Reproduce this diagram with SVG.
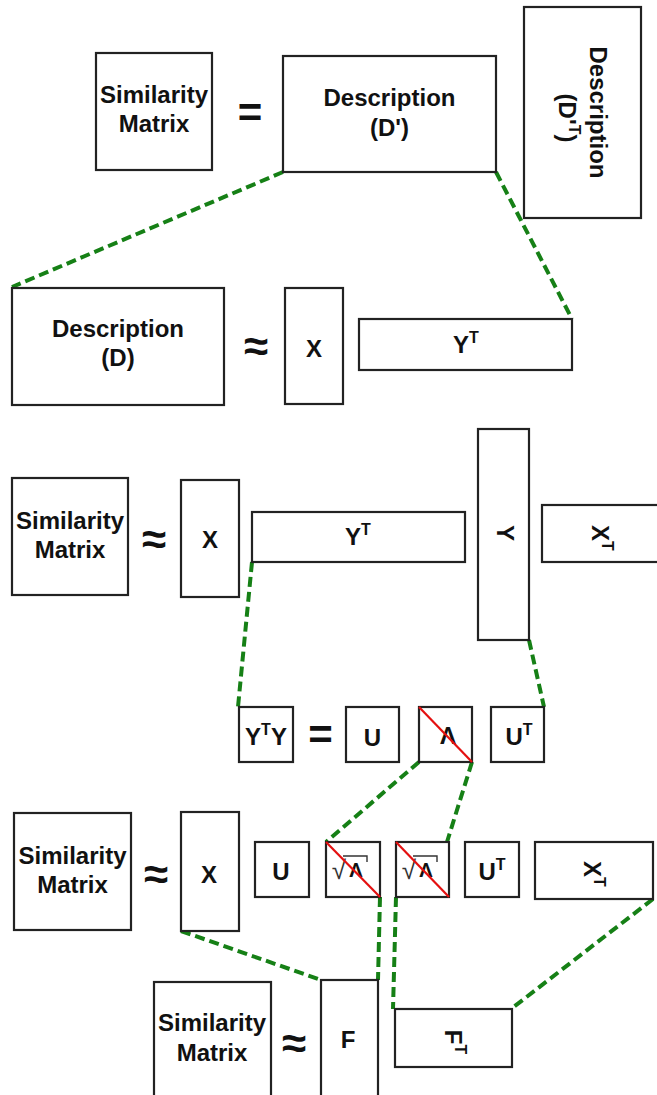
<svg xmlns="http://www.w3.org/2000/svg" width="657" height="1095" viewBox="0 0 657 1095">
<style>
.box{fill:#fff;stroke:#222;stroke-width:2.2}
.t{font-family:"Liberation Sans",Arial,sans-serif;font-weight:bold;font-size:24px;text-anchor:middle;fill:#111}
.op{font-family:"Liberation Sans",Arial,sans-serif;font-weight:bold;font-size:42px;text-anchor:middle;fill:#111}
.ap{font-family:"Liberation Sans",Arial,sans-serif;font-weight:bold;font-size:44px;text-anchor:middle;fill:#111}
.rad{font-family:"Liberation Sans",Arial,sans-serif;font-size:26px;text-anchor:middle;fill:#333}
.lam{font-family:"Liberation Sans",Arial,sans-serif;font-weight:bold;font-size:20px;text-anchor:middle;fill:#111}
.vin{fill:none;stroke:#333;stroke-width:1.4}
.red{stroke:#e41010;stroke-width:2.2}
.dash{fill:none;stroke:#168016;stroke-width:4;stroke-dasharray:10 5}
</style>
<rect width="657" height="1095" fill="#fff"/>

<g id="connectors" class="dash">
<line x1="283" y1="172" x2="12" y2="287"/>
<line x1="496" y1="172" x2="572" y2="319"/>
<line x1="252" y1="562" x2="238" y2="707"/>
<line x1="529" y1="640" x2="544" y2="707"/>
<line x1="419" y1="762" x2="326" y2="842"/>
<line x1="472" y1="762" x2="447" y2="842"/>
<line x1="181" y1="931" x2="321" y2="980"/>
<line x1="380" y1="897" x2="378" y2="980"/>
<line x1="396" y1="897" x2="393" y2="1009"/>
<line x1="653" y1="899" x2="511" y2="1009"/>
</g>

<!-- Row 1 -->
<g id="sim1"><rect class="box" x="96" y="53" width="116" height="117"/><text class="t" x="154" y="103">Similarity</text><text class="t" x="154" y="132">Matrix</text></g>
<g id="eq1"><text class="op" x="250" y="127">=</text></g>
<g id="descDp"><rect class="box" x="283" y="56" width="213" height="116"/><text class="t" x="389.5" y="106">Description</text><text class="t" x="389.5" y="136">(D')</text></g>
<g id="descDpT"><rect class="box" x="524" y="7" width="117" height="211"/><text class="t" transform="translate(590 112.5) rotate(90)">Description</text><text class="t" transform="translate(559 118) rotate(90)">(D'<tspan dy="-10" font-size="16">T</tspan><tspan dy="10">)</tspan></text></g>

<!-- Row 2 -->
<g id="descD"><rect class="box" x="12" y="288" width="212" height="117"/><text class="t" x="118" y="337">Description</text><text class="t" x="118" y="366">(D)</text></g>
<g id="ap1"><text class="ap" x="256" y="361">≈</text></g>
<g id="x1"><rect class="box" x="285" y="288" width="58" height="116"/><text class="t" x="314" y="357">X</text></g>
<g id="yt1"><rect class="box" x="359" y="319" width="213" height="51"/><text class="t" x="466" y="353">Y<tspan dy="-10" font-size="16">T</tspan></text></g>

<!-- Row 3 -->
<g id="sim2"><rect class="box" x="12" y="478" width="116" height="117"/><text class="t" x="70" y="529">Similarity</text><text class="t" x="70" y="558">Matrix</text></g>
<g id="ap2"><text class="ap" x="154" y="554">≈</text></g>
<g id="x2"><rect class="box" x="181" y="480" width="58" height="117"/><text class="t" x="210" y="548">X</text></g>
<g id="yt2"><rect class="box" x="252" y="512" width="213" height="50"/><text class="t" x="358" y="545">Y<tspan dy="-10" font-size="16">T</tspan></text></g>
<g id="y2"><rect class="box" x="478" y="429" width="51" height="211"/><text class="t" transform="translate(497 533) rotate(90)">Y</text></g>
<g id="xt2"><rect class="box" x="542" y="505" width="120" height="57"/><text class="t" transform="translate(592 538) rotate(90)">X<tspan dy="-10" font-size="16">T</tspan></text></g>

<!-- Row 4 -->
<g id="yty"><rect class="box" x="239" y="707" width="54" height="55"/><text class="t" x="266" y="745">Y<tspan dy="-10" font-size="16">T</tspan><tspan dy="10">Y</tspan></text></g>
<g id="eq2"><text class="op" x="320.5" y="749">=</text></g>
<g id="u1"><rect class="box" x="346" y="707" width="53" height="55"/><text class="t" x="372.5" y="746">U</text></g>
<g id="lambda"><rect class="box" x="419" y="707" width="53" height="55"/><text class="t" x="448" y="744" font-size="22">Λ</text><line class="red" x1="419" y1="707" x2="472" y2="762"/></g>
<g id="ut1"><rect class="box" x="491" y="707" width="53" height="55"/><text class="t" x="519" y="745">U<tspan dy="-10" font-size="16">T</tspan></text></g>

<!-- Row 5 -->
<g id="sim3"><rect class="box" x="14" y="813" width="117" height="117"/><text class="t" x="72.5" y="864">Similarity</text><text class="t" x="72.5" y="893">Matrix</text></g>
<g id="ap3"><text class="ap" x="156" y="889">≈</text></g>
<g id="x3"><rect class="box" x="181" y="812" width="58" height="119"/><text class="t" x="209" y="883">X</text></g>
<g id="u2"><rect class="box" x="255" y="842" width="54" height="55"/><text class="t" x="281" y="880">U</text></g>
<g id="sqrtl1"><rect class="box" x="326" y="842" width="54" height="55"/><text class="rad" x="339" y="879">√</text><polyline class="vin" points="343,856 367,856 367,862"/><text class="lam" x="356" y="877">Λ</text><line class="red" x1="326" y1="842" x2="380" y2="897"/></g>
<g id="sqrtl2"><rect class="box" x="396" y="842" width="53" height="55"/><text class="rad" x="409" y="879">√</text><polyline class="vin" points="413,856 437,856 437,862"/><text class="lam" x="426" y="877">Λ</text><line class="red" x1="396" y1="842" x2="449" y2="897"/></g>
<g id="ut2"><rect class="box" x="465" y="842" width="54" height="55"/><text class="t" x="492" y="880">U<tspan dy="-10" font-size="16">T</tspan></text></g>
<g id="xt3"><rect class="box" x="535" y="842" width="118" height="57"/><text class="t" transform="translate(584 874) rotate(90)">X<tspan dy="-10" font-size="16">T</tspan></text></g>

<!-- Row 6 -->
<g id="sim4"><rect class="box" x="154" y="982" width="117" height="130"/><text class="t" x="212" y="1031">Similarity</text><text class="t" x="212" y="1061">Matrix</text></g>
<g id="ap4"><text class="ap" x="294" y="1058">≈</text></g>
<g id="f"><rect class="box" x="321" y="980" width="57" height="130"/><text class="t" x="348" y="1048">F</text></g>
<g id="ft"><rect class="box" x="395" y="1009" width="117" height="58"/><text class="t" transform="translate(445 1042) rotate(90)">F<tspan dy="-10" font-size="16">T</tspan></text></g>
</svg>
